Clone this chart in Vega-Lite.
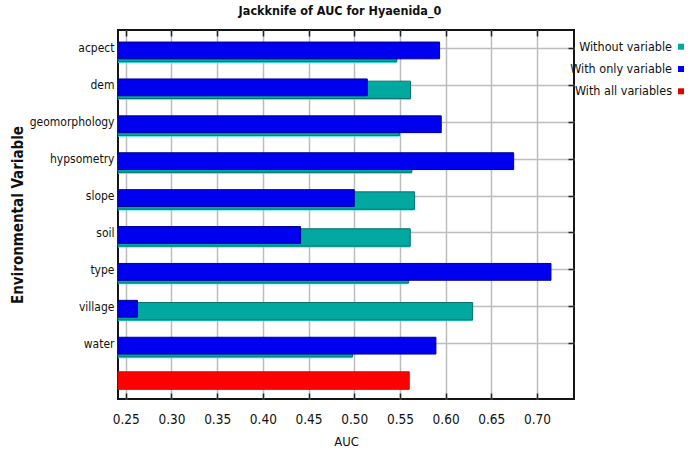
{
  "$schema": "https://vega.github.io/schema/vega-lite/v6.json",
  "background": "white",
  "padding": {"left": 9, "top": 3, "right": 5, "bottom": 5},
  "bounds": "flush",
  "spacing": 98,
  "config": {
    "font": "DejaVu Sans Condensed, Liberation Sans, sans-serif",
    "view": {"stroke": "#151515", "strokeWidth": 2}
  },
  "hconcat": [
    {
      "title": {
        "text": "Jackknife of AUC for Hyaenida_0",
        "fontSize": 12.5,
        "fontWeight": "bold",
        "color": "#111",
        "offset": 12,
        "dx": -6
      },
      "width": 456,
      "height": 369,
      "data": {
        "values": [
          {"variable": "acpect", "without": 0.5466, "withonly": 0.5934},
          {"variable": "dem", "without": 0.5616, "withonly": 0.5143},
          {"variable": "geomorphology", "without": 0.5497, "withonly": 0.5952},
          {"variable": "hypsometry", "without": 0.5631, "withonly": 0.6745},
          {"variable": "slope", "without": 0.5661, "withonly": 0.5000},
          {"variable": "soil", "without": 0.5613, "withonly": 0.4413},
          {"variable": "type", "without": 0.5595, "withonly": 0.7153},
          {"variable": "village", "without": 0.6296, "withonly": 0.2628},
          {"variable": "water", "without": 0.4982, "withonly": 0.5894},
          {"variable": "all", "allvars": 0.5602}
        ]
      },
      "resolve": {"axis": {"x": "independent", "y": "independent"}},
      "layer": [
        {
          "mark": {"type": "bar", "size": 17, "yOffset": 6, "color": "#3fe0e0"},
          "encoding": {
            "y": {"field": "variable", "type": "nominal", "sort": null,
                  "scale": {"paddingInner": 0, "paddingOuter": 0},
                  "axis": {
                    "orient": "left",
                    "title": "Environmental Variable",
                    "titleFontSize": 15,
                    "titleFontWeight": "bold",
                    "titleColor": "#111",
                    "titlePadding": 4,
                    "labelExpr": "datum.value === 'all' ? '' : datum.value",
                    "labelFontSize": 12,
                    "labelColor": "#111",
                    "labelPadding": 4,
                    "ticks": false,
                    "domain": false,
                    "grid": true,
                    "gridColor": "#bdbdbd",
                    "gridWidth": 1.5,
                    "gridOpacity": {"condition": {"test": "datum.value === 'all'", "value": 0}, "value": 1}
                  }},
            "x": {"field": "without", "type": "quantitative",
                  "scale": {"domain": [0.2415, 0.7405], "zero": false, "nice": false},
                  "axis": {
                    "orient": "bottom",
                    "title": "AUC",
                    "titleFontSize": 13,
                    "titleFontWeight": "normal",
                    "titleColor": "#111",
                    "titlePadding": 10,
                    "values": [0.25, 0.3, 0.35, 0.4, 0.45, 0.5, 0.55, 0.6, 0.65, 0.7],
                    "format": ".2f",
                    "labelFontSize": 13.5,
                    "labelColor": "#111",
                    "labelPadding": 19,
                    "tickSize": -6,
                    "tickColor": "#222",
                    "tickWidth": 1.5,
                    "domain": false,
                    "grid": true,
                    "gridColor": "#bdbdbd",
                    "gridWidth": 1.5
                  }},
            "x2": {"datum": 0.2415}
          }
        },
        {
          "mark": {"type": "bar", "size": 17.4, "yOffset": 4.5, "color": "#00a8a0", "stroke": "#07706c", "strokeWidth": 1},
          "encoding": {
            "y": {"field": "variable", "type": "nominal", "sort": null, "axis": null},
            "x": {"field": "without", "type": "quantitative",
                  "scale": {"domain": [0.2415, 0.7405], "zero": false, "nice": false},
                  "axis": null},
            "x2": {"datum": 0.2415}
          }
        },
        {
          "mark": {"type": "bar", "size": 16.8, "yOffset": 2, "color": "#0000f0", "stroke": "#00008c", "strokeWidth": 1},
          "encoding": {
            "y": {"field": "variable", "type": "nominal", "sort": null,
                  "axis": {
                    "orient": "right",
                    "title": null,
                    "labels": false,
                    "domain": false,
                    "grid": false,
                    "tickSize": -6,
                    "tickColor": "#222",
                    "tickWidth": 1.5,
                    "tickOpacity": {"condition": {"test": "datum.value === 'all'", "value": 0}, "value": 1}
                  }},
            "x": {"field": "withonly", "type": "quantitative",
                  "scale": {"domain": [0.2415, 0.7405], "zero": false, "nice": false},
                  "axis": {
                    "orient": "top",
                    "title": null,
                    "labels": false,
                    "values": [0.25, 0.3, 0.35, 0.4, 0.45, 0.5, 0.55, 0.6, 0.65, 0.7],
                    "domain": false,
                    "grid": false,
                    "tickSize": -6,
                    "tickColor": "#222",
                    "tickWidth": 1.5
                  }},
            "x2": {"datum": 0.2415}
          }
        },
        {
          "mark": {"type": "bar", "size": 17.5, "color": "#ff0000", "stroke": "#e00000", "strokeWidth": 1},
          "encoding": {
            "y": {"field": "variable", "type": "nominal", "sort": null, "axis": null},
            "x": {"field": "allvars", "type": "quantitative",
                  "scale": {"domain": [0.2415, 0.7405], "zero": false, "nice": false},
                  "axis": null},
            "x2": {"datum": 0.2415}
          }
        }
      ]
    },
    {
      "width": 9,
      "height": 78,
      "view": {"stroke": null},
      "data": {
        "values": [
          {"series": "Without variable"},
          {"series": "With only variable"},
          {"series": "With all variables"}
        ]
      },
      "encoding": {
        "y": {"field": "series", "type": "nominal", "sort": null,
              "scale": {"type": "point", "padding": 0.75}, "axis": null}
      },
      "layer": [
        {
          "mark": {"type": "text", "align": "right", "baseline": "middle", "fontSize": 12.5, "color": "#111"},
          "encoding": {
            "x": {"datum": "label", "type": "nominal",
                  "scale": {"type": "point", "domain": ["label", "swatch"], "padding": 0}, "axis": null},
            "text": {"field": "series"}
          }
        },
        {
          "mark": {"type": "square", "size": 36, "opacity": 1},
          "encoding": {
            "x": {"datum": "swatch", "type": "nominal",
                  "scale": {"type": "point", "domain": ["label", "swatch"], "padding": 0}, "axis": null},
            "color": {"field": "series", "type": "nominal", "legend": null, "sort": null,
                      "scale": {"domain": ["Without variable", "With only variable", "With all variables"],
                                "range": ["#00a8a0", "#0000f0", "#e00000"]}}
          }
        }
      ]
    }
  ]
}
